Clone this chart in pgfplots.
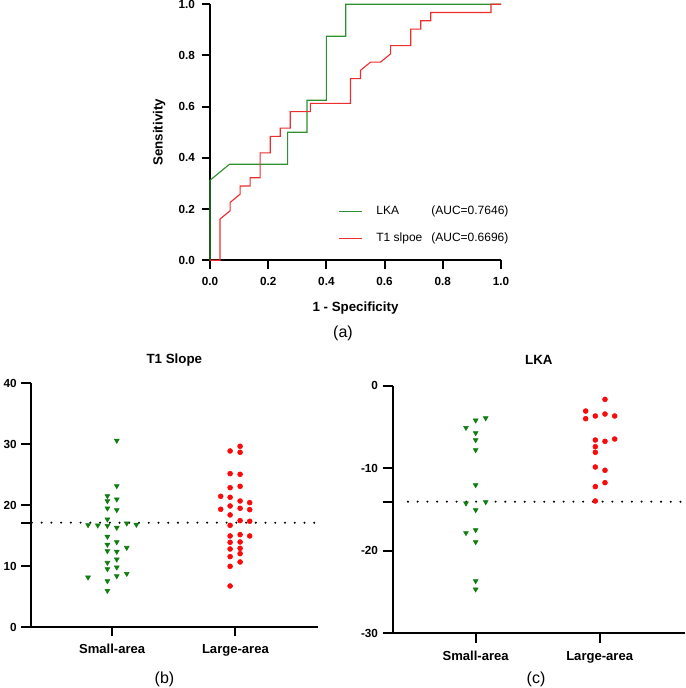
\documentclass[border=0pt]{standalone}
\usepackage{pgfplots}
\pgfplotsset{compat=1.18}
\usepackage{fontspec}
\setmainfont{Liberation Sans}
\definecolor{rocgreen}{RGB}{45,145,45}
\definecolor{rocred}{RGB}{238,45,45}
\definecolor{dotgreen}{RGB}{16,125,16}
\definecolor{dotred}{RGB}{250,10,10}
\pgfplotsset{
  gp/.style={
    scale only axis,
    axis x line*=bottom, axis y line*=left,
    axis line style={line width=1.5pt},
    tick align=outside,
    tick style={line width=1.5pt, black},
    /pgf/number format/assume math mode=true,
    tick label style={font=\fontsize{8.8}{10}\selectfont\bfseries},
    label style={font=\fontsize{10}{12}\selectfont\bfseries},
    title style={font=\fontsize{10}{12}\selectfont\bfseries},
    clip=false,
  },
  dotline/.style={black, line width=1.7pt, dash pattern=on 0pt off 7.3pt, line cap=round},
  gtri/.style={only marks, mark=triangle*, mark size=2.1pt, color=dotgreen, mark options={rotate=180, draw=dotgreen, fill=dotgreen}},
  rdot/.style={only marks, mark=*, mark size=1.85pt, color=dotred, mark options={draw=dotred, fill=dotred}},
}
\begin{document}
\begin{tikzpicture}
\useasboundingbox (0pt,0pt) rectangle (513.75pt,516pt);

% ---------------- (a) ROC ----------------
\begin{axis}[gp,
  at={(157.5pt,320.775pt)}, anchor=south west,
  width=218.25pt, height=192pt,
  xmin=0, xmax=1, ymin=0, ymax=1,
  xtick={0,0.2,0.4,0.6,0.8,1}, ytick={0,0.2,0.4,0.6,0.8,1},
  major tick length=6.2pt,
  xticklabel style={yshift=-3pt, /pgf/number format/.cd, fixed, fixed zerofill, precision=1},
  yticklabel style={xshift=-1.5pt, /pgf/number format/.cd, fixed, fixed zerofill, precision=1},
  xlabel={1 - Specificity}, ylabel={Sensitivity},
  xlabel style={at={(axis description cs:0.5,-0.1875)}, anchor=center},
  ylabel style={at={(axis description cs:-0.175,0.5)}, anchor=center},
  legend style={draw=none, fill=none, at={(axis description cs:0.441,0.212)}, anchor=north west,
    font=\fontsize{9}{11}\selectfont, row sep=12pt, inner sep=0pt,
    nodes={inner sep=0pt},
    /tikz/every odd column/.append style={column sep=10.7pt}},
  legend cell align=left,
  legend image code/.code={\draw[#1] (0pt,0pt) -- (16.8pt,0pt);},
]
\addplot[rocgreen, line width=0.85pt] coordinates {
(0,0) (0,0.3125) (0.0667,0.375) (0.2667,0.375) (0.2667,0.5) (0.3333,0.5) (0.3333,0.625) (0.4,0.625) (0.4,0.875) (0.4667,0.875) (0.4667,1) (1,1)};
\addlegendentry{\makebox[41.25pt][l]{LKA}(AUC=0.7646)}
\addplot[rocred, line width=0.85pt] coordinates {
(0,0) (0.0345,0) (0.0345,0.1613) (0.0690,0.1935) (0.0690,0.2258) (0.1034,0.2581) (0.1034,0.2903) (0.1379,0.2903) (0.1379,0.3226) (0.1724,0.3226) (0.1724,0.4194) (0.2069,0.4194) (0.2069,0.4839) (0.2414,0.4839) (0.2414,0.5161) (0.2759,0.5161) (0.2759,0.5806) (0.3448,0.5806) (0.3448,0.6129) (0.4828,0.6129) (0.4828,0.7097) (0.5172,0.7097) (0.5172,0.7419) (0.5517,0.7742) (0.5862,0.7742) (0.6207,0.8065) (0.6207,0.8387) (0.6897,0.8387) (0.6897,0.9032) (0.7241,0.9032) (0.7241,0.9355) (0.7586,0.9355) (0.7586,0.9677) (0.9655,0.9677) (0.9655,1) (1,1)};
\addlegendentry{\makebox[41.25pt][l]{T1 slpoe}(AUC=0.6696)}
\end{axis}

% ---------------- (b) T1 Slope ----------------
\begin{axis}[gp,
  at={(23.025pt,45.75pt)}, anchor=south west,
  width=215.5pt, height=182.8pt,
  xmin=-0.66, xmax=1.67, ymin=0, ymax=40,
  xtick={0,1}, xticklabels={Small-area, Large-area},
  ytick={0,10,20,30,40},
  extra y ticks={17.12}, extra y tick labels={},
  major tick length=7pt,
  xticklabel style={font=\fontsize{9.8}{12}\selectfont\bfseries, yshift=-2.5pt},
  title={T1 Slope},
  title style={at={(axis description cs:0.5,1.0616)}, anchor=center},
]
\addplot[dotline] coordinates {(-0.65,17.12) (1.66,17.12)};
\addplot[gtri] coordinates {
(0.038,30.59) (0.038,23.15) (-0.038,21.50) (0.038,20.96) (-0.038,20.68) (-0.038,19.48) (0.038,19.21) (-0.038,17.67) (-0.195,16.74) (-0.116,16.69) (-0.038,16.63) (0.038,16.31) (0.119,17.02) (0.197,16.80) (-0.038,14.83) (0.038,13.95) (-0.038,13.52) (0.119,13.02) (-0.038,12.48) (0.038,12.37) (0.038,11.11) (-0.038,10.56) (-0.038,9.52) (0.038,9.79) (-0.195,8.15) (0.119,8.75) (0.038,8.37) (-0.038,7.55) (-0.038,5.96)};
\addplot[rdot] coordinates {
(0.957,28.89) (1.038,29.66) (1.038,28.67) (0.957,25.17) (1.038,25.06) (0.957,22.87) (1.038,23.09) (0.881,21.45) (0.957,21.29) (1.038,20.68) (1.116,20.41) (0.881,19.32) (0.957,19.86) (1.038,19.48) (1.116,19.26) (0.957,18.39) (1.038,17.46) (1.116,17.35) (0.957,16.69) (0.957,14.94) (1.038,15.16) (1.116,14.94) (0.957,13.90) (1.038,13.95) (0.957,12.80) (1.038,12.91) (0.957,11.55) (1.038,12.04) (1.038,10.67) (0.957,9.96) (0.957,6.73)};
\end{axis}

% ---------------- (c) LKA ----------------
\begin{axis}[gp,
  at={(294.525pt,41.025pt)}, anchor=south west,
  width=219.2pt, height=185.7pt,
  xmin=-0.669, xmax=1.688, ymin=-30, ymax=0,
  xtick={0,1}, xticklabels={Small-area, Large-area},
  ytick={-30,-20,-10,0},
  extra y ticks={-14.05}, extra y tick labels={},
  major tick length=7.5pt,
  xticklabel style={font=\fontsize{9.8}{12}\selectfont\bfseries, yshift=-2.5pt},
  title={LKA},
  title style={at={(axis description cs:0.5,1.0703)}, anchor=center},
]
\addplot[dotline] coordinates {(-0.546,-14.05) (1.66,-14.05)};
\addplot[gtri] coordinates {
(-0.078,-5.09) (0,-4.20) (0.081,-3.92) (0,-5.73) (0,-6.58) (0,-7.79) (0,-12.03) (-0.078,-14.25) (0.081,-14.09) (0,-15.06) (-0.078,-17.84) (0,-17.48) (0,-18.93) (0,-23.66) (0,-24.67)};
\addplot[rdot] coordinates {
(1.043,-1.66) (0.887,-3.07) (0.887,-4.00) (0.965,-3.67) (1.043,-3.43) (1.121,-3.67) (0.965,-6.58) (1.043,-6.74) (1.121,-6.46) (0.965,-7.39) (0.965,-8.07) (0.965,-9.85) (1.043,-10.25) (0.965,-12.23) (1.043,-11.75) (0.965,-13.97)};
\end{axis}

\node[font=\fontsize{12}{14}\selectfont] at (257.25pt,266.025pt) {(a)};
\node[font=\fontsize{12}{14}\selectfont] at (123.375pt,6.375pt) {(b)};
\node[font=\fontsize{12}{14}\selectfont] at (402pt,6.375pt) {(c)};
\end{tikzpicture}
\end{document}
